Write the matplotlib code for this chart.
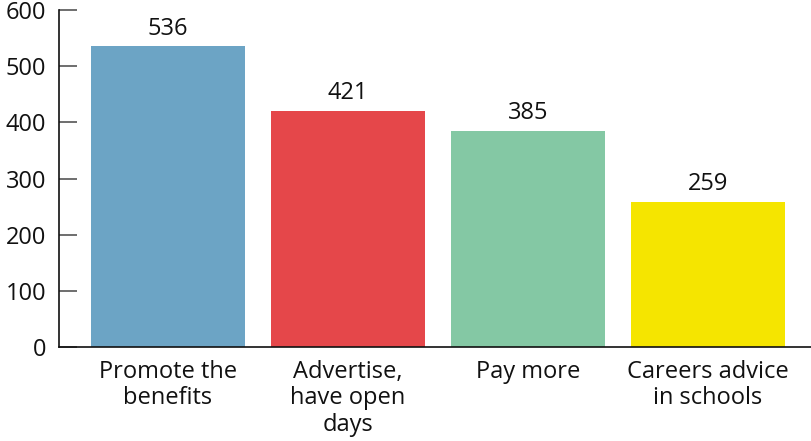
import matplotlib
matplotlib.use("Agg")
import matplotlib.pyplot as plt

categories = ["Promote the\nbenefits", "Advertise,\nhave open\ndays", "Pay more", "Careers advice\nin schools"]
values = [536, 421, 385, 259]
colors = ["#6ca4c5", "#e5474a", "#84c8a4", "#f5e500"]
yticks = [0, 100, 200, 300, 400, 500, 600]

plt.rcParams["font.family"] = ["Open Sans", "DejaVu Sans"]

fig = plt.figure(figsize=(8.11, 4.41), dpi=100)
ax = fig.add_axes([0.0727, 0.213, 0.9273, 0.764])

x = list(range(len(values)))
bars = ax.bar(x, values, width=0.856, color=colors)

for xi, v in zip(x, values):
    ax.annotate(str(v), (xi, v), xytext=(0, 4), textcoords="offset points",
                ha="center", va="bottom", fontsize=17, color="#111111")

ax.set_xlim(-0.606, 3.572)
ax.set_ylim(0, 600)
ax.set_yticks(yticks)
ax.set_xticks(x)
ax.set_xticklabels(categories, fontsize=17, linespacing=1.15)

for s in ("top", "right"):
    ax.spines[s].set_visible(False)
ax.spines["left"].set_color("#111111")
ax.spines["bottom"].set_color("#111111")
ax.spines["left"].set_linewidth(1.2)
ax.spines["bottom"].set_linewidth(1.2)

ax.tick_params(axis="y", direction="in", length=13, width=1.2, color="#555555",
               labelsize=17, pad=9, labelcolor="#111111")
ax.tick_params(axis="x", length=0, pad=9, labelcolor="#111111")

fig.savefig("out.png", dpi=100)
